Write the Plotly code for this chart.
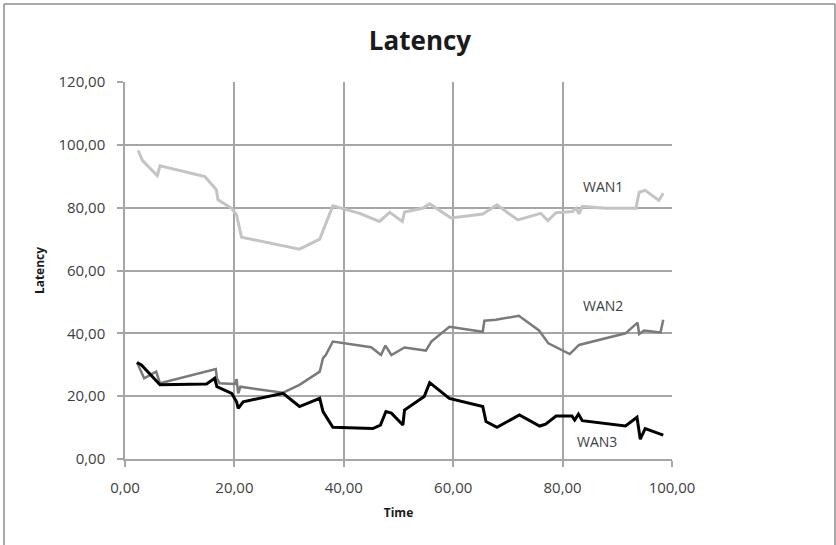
import plotly.graph_objects as go

# WAN1 latency samples (time, latency)
wan1_time = [2.4, 3.2, 5.9, 6.4, 14.6, 16.7, 17.0, 19.5, 20.4, 21.3, 31.9, 35.6,
             38.0, 42.9, 46.5, 48.4, 50.7, 51.1, 54.4, 55.7, 59.6, 65.4, 68.0,
             71.8, 76.0, 77.3, 78.8, 81.8, 82.5, 83.0, 83.6, 87.9, 93.4, 94.0,
             95.1, 97.6, 98.4]
wan1_latency = [98.2, 95.0, 90.2, 93.3, 89.9, 85.7, 82.5, 79.8, 77.7, 70.6, 66.8,
                70.0, 80.6, 78.2, 75.6, 78.5, 75.6, 78.6, 79.8, 81.2, 76.7, 78.0,
                80.9, 76.1, 78.2, 75.9, 78.4, 78.8, 79.8, 78.0, 80.4, 79.8, 79.8,
                84.9, 85.5, 82.3, 84.6]

# WAN2 latency samples
wan2_time = [2.2, 3.5, 5.7, 6.4, 16.6, 16.8, 17.3, 20.1, 20.4, 20.7, 21.1, 28.9,
             31.9, 35.6, 36.2, 36.7, 38.0, 42.9, 45.0, 46.8, 47.6, 48.7, 51.1,
             55.0, 56.0, 59.3, 65.4, 65.7, 67.8, 72.0, 75.7, 77.4, 81.3, 83.0,
             91.5, 93.7, 94.0, 94.9, 97.9, 98.4]
wan2_latency = [30.7, 25.7, 27.8, 24.1, 28.6, 25.7, 24.1, 23.9, 25.4, 20.9, 23.0,
                21.1, 23.6, 27.8, 32.1, 33.1, 37.4, 36.0, 35.6, 33.1, 36.1, 33.1,
                35.5, 34.5, 37.4, 42.1, 40.5, 44.0, 44.3, 45.6, 40.9, 36.8, 33.4,
                36.3, 40.0, 43.4, 39.8, 40.9, 40.3, 44.3]

# WAN3 latency samples
wan3_time = [2.2, 3.0, 6.4, 14.9, 16.4, 16.8, 19.5, 20.4, 20.7, 21.6, 28.9, 31.9,
             35.6, 36.2, 38.0, 42.9, 45.3, 46.7, 47.7, 48.7, 50.8, 51.1, 54.7,
             55.7, 59.3, 65.4, 66.0, 68.0, 72.1, 75.8, 76.9, 78.8, 81.7, 82.2,
             82.9, 83.6, 91.5, 93.6, 94.2, 95.1, 98.4]
wan3_latency = [30.7, 29.9, 23.6, 23.9, 25.7, 23.0, 20.9, 18.2, 16.1, 18.2, 20.9,
                16.7, 19.3, 15.1, 10.1, 9.7, 9.7, 10.8, 15.1, 14.6, 10.8, 15.6,
                19.9, 24.3, 19.3, 16.7, 11.9, 10.1, 14.0, 10.5, 11.1, 13.7, 13.7,
                12.4, 14.3, 12.2, 10.5, 13.3, 6.3, 9.7, 7.6]

series_names = ["WAN1", "WAN2", "WAN3"]
series_colors = ["#c4c4c4", "#7a7a7a", "#000000"]
series_widths = [3, 2.5, 3]
label_x = [87.4, 87.4, 86.2]
label_y = [86.6, 49.0, 5.6]

x_ticks = [0, 20, 40, 60, 80, 100]
y_ticks = [0, 20, 40, 60, 80, 100, 120]

FONT = "Open Sans"
TEXT = "#404040"

fig = go.Figure()
for name, xs, ys, col, w in zip(series_names,
                                [wan1_time, wan2_time, wan3_time],
                                [wan1_latency, wan2_latency, wan3_latency],
                                series_colors, series_widths):
    fig.add_trace(go.Scatter(x=xs, y=ys, mode="lines", name=name,
                             line=dict(color=col, width=w)))

for name, lx, ly in zip(series_names, label_x, label_y):
    fig.add_annotation(x=lx, y=ly, xref="x", yref="y", text=name, showarrow=False,
                       font=dict(family=FONT, size=14, color=TEXT))

# chart frame
L, R, T, B = 125, 672, 82, 459
pw, ph = R - L, B - T
def px(v):
    return (v - L) / pw
def py(v):
    return (B - v) / ph
frame = dict(color="#8c8c8c", width=1.5)
fig.add_shape(type="line", xref="paper", yref="paper", x0=px(4), x1=px(4),
              y0=py(4), y1=py(560), line=frame)
fig.add_shape(type="line", xref="paper", yref="paper", x0=px(4), x1=px(835),
              y0=py(4), y1=py(4), line=frame)
fig.add_shape(type="line", xref="paper", yref="paper", x0=px(835), x1=px(835),
              y0=py(4), y1=py(560), line=frame)

axis_common = dict(showgrid=True, gridcolor="#a6a6a6", gridwidth=1.5,
                   showline=True, linecolor="#a6a6a6", linewidth=1.5,
                   ticks="outside", ticklen=6, tickcolor="#a6a6a6", tickwidth=1.5,
                   tickformat=".2f", zeroline=False,
                   tickfont=dict(family=FONT, size=15, color=TEXT))

fig.update_layout(
    width=836, height=545,
    margin=dict(l=L, r=836 - R, t=T, b=545 - B, autoexpand=False),
    paper_bgcolor="white", plot_bgcolor="white",
    separators=",.",
    showlegend=False,
    title=dict(text="<b>Latency</b>", x=(420) / 836, xanchor="center",
               y=1 - 41 / 545, yanchor="middle",
               font=dict(family=FONT, size=26, color="#1a1a1a")),
    xaxis=dict(range=[0, 100], tickvals=x_ticks, ticklabelstandoff=8,
               title=dict(text="<b>Time</b>", standoff=13,
                          font=dict(family=FONT, size=12, color="#1a1a1a")),
               **axis_common),
    yaxis=dict(range=[0, 120], tickvals=y_ticks, ticklabelstandoff=9,
               title=dict(text="<b>Latency</b>", standoff=11,
                          font=dict(family=FONT, size=12, color="#1a1a1a")),
               **axis_common),
)

fig.write_html("out.html")
